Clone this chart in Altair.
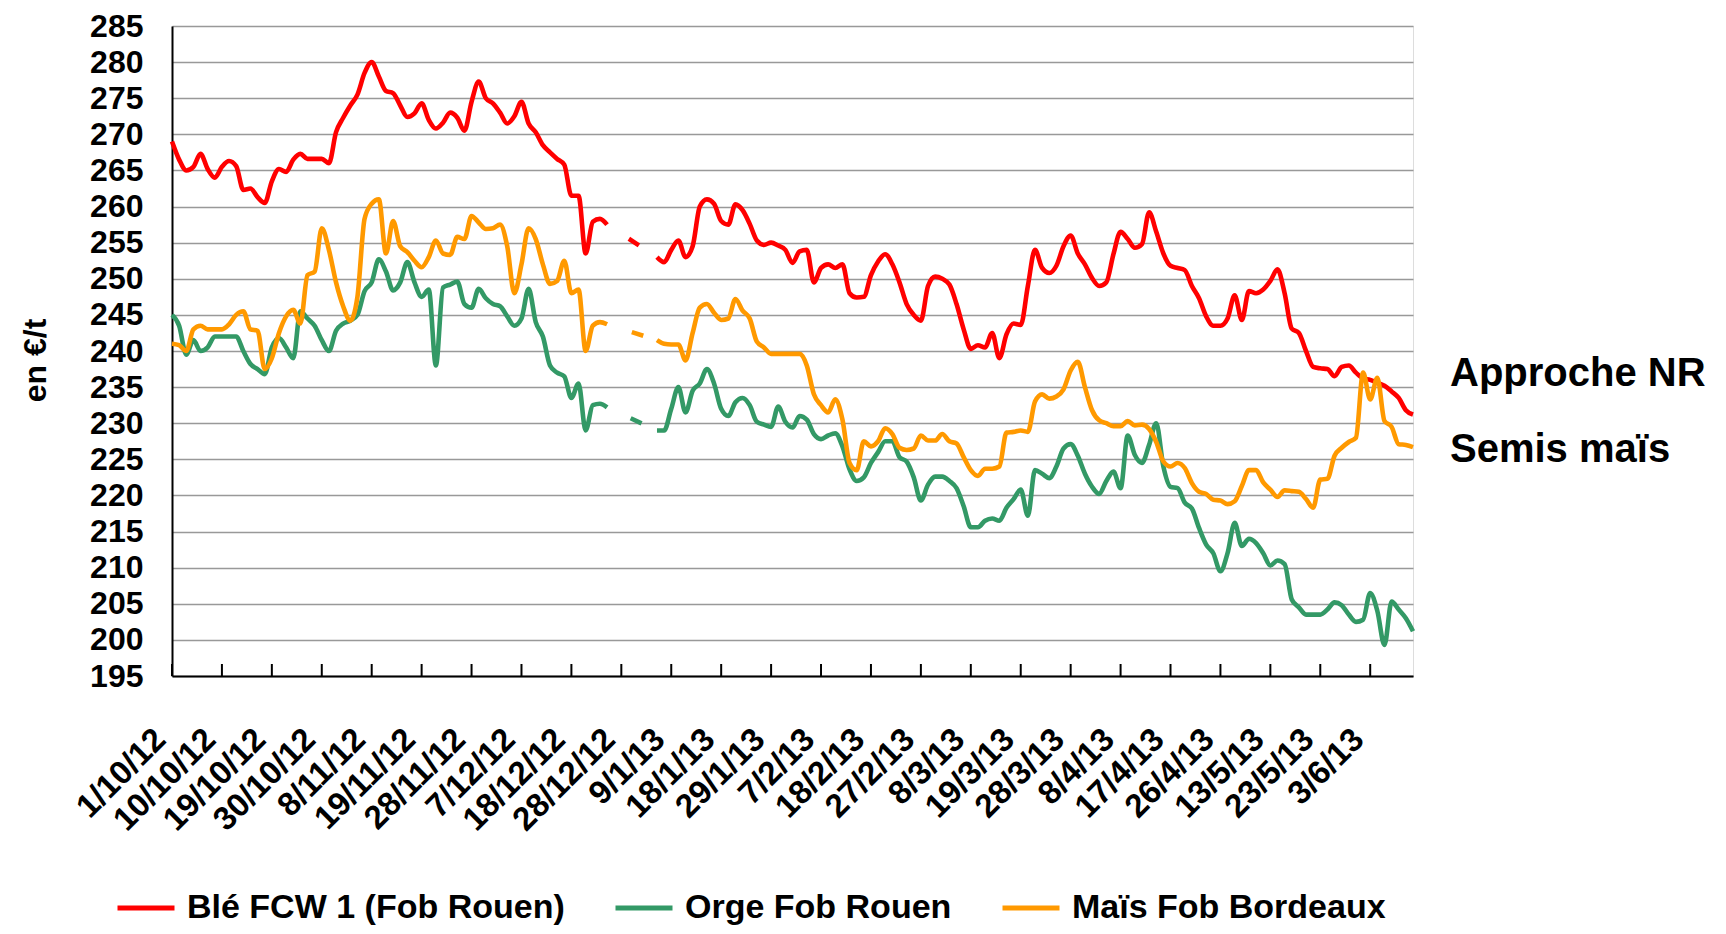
import altair as alt
import pandas as pd

# ---------------- data ----------------
x_labels = ["1/10/12", "10/10/12", "19/10/12", "30/10/12", "8/11/12", "19/11/12",
            "28/11/12", "7/12/12", "18/12/12", "28/12/12", "9/1/13", "18/1/13",
            "29/1/13", "7/2/13", "18/2/13", "27/2/13", "8/3/13", "19/3/13",
            "28/3/13", "8/4/13", "17/4/13", "26/4/13", "13/5/13", "23/5/13", "3/6/13"]
label_step = 7
n_points = 175
gap_start, gap_end = 61, 68

series_names = ["Blé FCW 1 (Fob Rouen)", "Orge Fob Rouen", "Maïs Fob Bordeaux"]
series_colors = ["#FF0000", "#339966", "#FF9900"]
annotations = ["Approche NR", "Semis maïs"]
y_ticks = list(range(195, 286, 5))

N = None
ble = [
    269, 266.5, 265, 265.5, 267.3, 265.2, 264, 265.5, 266.3, 265.6,
    262.3, 262.5, 261.3, 260.5, 263.5, 265.2, 264.8, 266.5, 267.3, 266.6,
    266.6, 266.6, 266, 270.3, 272.3, 274, 275.5, 278.5, 280, 278,
    276, 275.7, 274, 272.4, 272.9, 274.3, 272, 270.8, 271.6, 273,
    272.3, 270.5, 274.5, 277.3, 275, 274.3, 273, 271.5, 272.5, 274.5,
    271.5, 270.3, 268.5, 267.5, 266.6, 265.8, 261.5, 261.5, 253.5, 257.9,
    258.3, 257.5, N, N, N, N, N, N, 253, 252.3,
    254, 255.3, 253, 254.5, 260, 261, 260.4, 258, 257.5, 260.3,
    259.5, 257.6, 255.3, 254.7, 255, 254.6, 254, 252.2, 253.8, 254,
    249.5, 251.5, 252, 251.5, 252, 248, 247.4, 247.5, 250.5, 252.4,
    253.4, 252, 249.5, 246.5, 245, 244.2, 249, 250.3, 250, 249.2,
    246.5, 243, 240.3, 240.8, 240.5, 242.5, 239, 242.3, 243.8, 243.6,
    249, 254, 251.5, 250.8, 251.8, 254.5, 256, 253.5, 252, 250.1,
    249, 249.5, 253.4, 256.5, 255.5, 254.3, 254.8, 259.2, 256.5, 253.5,
    251.8, 251.5, 251.2, 249, 247.3, 244.8, 243.5, 243.5, 244.5, 247.7,
    244.3, 248.3, 248, 248.5, 249.7, 251.3, 248, 243.1, 242.5, 240,
    237.8, 237.6, 237.5, 236.5, 237.8, 238, 237, 236.2, 236, 235.6,
    235.2, 234.4, 233.5, 231.8, 231.2]

orge = [
    245, 243.5, 239.5, 241.5, 240, 240.5, 242, 242, 242, 242,
    240, 238.2, 237.5, 236.8, 240.5, 241.8, 240.5, 239, 245.5, 244.5,
    243.5, 241.5, 240, 242.8, 243.8, 244.2, 245, 248.3, 249.5, 252.7,
    251, 248.4, 249.5, 252.3, 249.5, 247.5, 248.5, 238, 248.8, 249.2,
    249.6, 246.5, 246, 248.6, 247.3, 246.5, 246.2, 244.8, 243.5, 244.5,
    248.6, 244, 242, 238, 237, 236.5, 233.5, 235.5, 229, 232.5,
    232.7, 232.2, N, N, N, N, N, N, 229, 229,
    232, 235, 231.5, 234.5, 235.5, 237.5, 235.5, 232, 231, 232.9,
    233.5, 232.5, 230.2, 229.8, 229.5, 232.3, 230.2, 229.4, 231, 230.5,
    228.5, 227.8, 228.3, 228.6, 226.8, 223.6, 222, 222.5, 224.5, 226,
    227.5, 227.5, 225.3, 224.7, 222.5, 219.3, 221.5, 222.6, 222.6, 222,
    221, 218.5, 215.6, 215.6, 216.5, 216.8, 216.5, 218.3, 219.5, 220.8,
    217.2, 223.5, 223, 222.4, 224, 226.5, 227.1, 225.5, 223, 221.2,
    220.2, 222, 223.3, 221, 228.3, 225.6, 224.5, 227, 230, 224,
    221.2, 221, 219, 218.2, 215.5, 213.2, 212, 209.5, 212, 216.2,
    213, 214, 213.4, 212, 210.3, 211, 210.5, 205.6, 204.5, 203.5,
    203.5, 203.5, 204.2, 205.2, 204.8, 203.5, 202.5, 202.8, 206.5, 204,
    199.3, 205.3, 204.2, 203, 201.2]

mais = [
    241, 240.8, 240, 243, 243.5, 243, 243, 243, 243.7, 245,
    245.5, 243, 242.8, 237.5, 239, 242.5, 244.8, 245.7, 243.8, 250.5,
    251, 257, 254, 249.5, 246.2, 244.2, 247.5, 258.3, 260.4, 261,
    253.5, 258, 254.5, 253.7, 252.5, 251.6, 253, 255.3, 253.5, 253.3,
    255.8, 255.5, 258.7, 257.8, 256.9, 257, 257.5, 254.5, 248, 252,
    257, 255.5, 252, 249.3, 249.7, 252.5, 248, 248.5, 240, 243.5,
    244, 243.7, N, N, N, N, N, N, 241.5, 241,
    240.9, 240.9, 238.7, 242.5, 246, 246.5, 245.3, 244.3, 244.5, 247.2,
    245.6, 244.5, 241.3, 240.5, 239.6, 239.6, 239.6, 239.6, 239.6, 238,
    234, 232.5, 231.5, 233.3, 230.5, 224.5, 223.5, 227.5, 226.8, 227.5,
    229.3, 228.5, 226.6, 226.3, 226.5, 228.3, 227.6, 227.6, 228.5, 227.5,
    227.2, 225.3, 223.5, 222.7, 223.7, 223.7, 224, 228.7, 228.8, 229,
    228.8, 233, 234, 233.4, 233.7, 234.7, 237.3, 238.5, 235, 231.8,
    230.4, 230, 229.6, 229.6, 230.3, 229.7, 229.8, 229.2, 227.4, 224.7,
    224, 224.5, 223.8, 221.7, 220.5, 220.2, 219.4, 219.3, 218.8, 219.2,
    221.3, 223.5, 223.5, 221.8, 220.8, 219.8, 220.7, 220.6, 220.5, 219.5,
    218.3, 222.2, 222.3, 225.5, 226.6, 227.4, 228, 237, 233.3, 236.3,
    230.3, 229.5, 227.1, 227, 226.7]

# ---------------- tables ----------------
series_values = [ble, orge, mais]
rows, conn_rows = [], []
for name, vals in zip(series_names, series_values):
    for i, v in enumerate(vals):
        if v is None:
            continue
        rows.append({"idx": i, "serie": name, "val": v, "seg": 0 if i <= gap_start else 1})
        if i in (gap_start, gap_end):
            conn_rows.append({"idx": i, "serie": name, "val": v})
df = pd.DataFrame(rows)
conn = pd.DataFrame(conn_rows)
tick_vals = list(range(0, len(x_labels) * label_step, label_step))
ticks_df = pd.DataFrame({"idx": tick_vals})

FONT = "Liberation Sans"
W, H = 1241, 650

label_js = "[" + ",".join("'%s'" % s for s in x_labels) + "]"

x_enc = alt.X("idx:Q",
              scale=alt.Scale(domain=[0, n_points - 1], nice=False, zero=False),
              axis=alt.Axis(values=tick_vals,
                            labelExpr=label_js + "[round(datum.value / %d)]" % label_step,
                            labelAngle=-45, labelAlign="right", labelBaseline="middle",
                            labelOffset=-12, labelPadding=58, labelFlush=False,
                            labelOverlap=False, labelBound=False,
                            ticks=False, tickSize=0, grid=False,
                            domainColor="black", domainWidth=2,
                            labelFont=FONT, labelFontSize=33, labelFontWeight="bold",
                            labelColor="black", title=None))
y_enc = alt.Y("val:Q",
              scale=alt.Scale(domain=[195, 285], nice=False, zero=False),
              axis=alt.Axis(values=y_ticks, grid=True, gridColor="#999999", gridWidth=1.5,
                            ticks=False, tickSize=0, labelPadding=29,
                            domainColor="black", domainWidth=2,
                            labelFont=FONT, labelFontSize=32, labelFontWeight="bold",
                            labelColor="black", labelOverlap=False, labelFlush=False,
                            title="en €/t", titleFont=FONT, titleFontSize=32,
                            titleFontWeight="bold", titleColor="black",
                            titleAngle=-90, titleX=-137, titleY=334,
                            titleAlign="center", titleBaseline="middle"))

color_enc = alt.Color("serie:N",
                      scale=alt.Scale(domain=series_names, range=series_colors),
                      title=None,
                      legend=alt.Legend(orient="none", legendX=-57, legendY=851,
                                        direction="horizontal", symbolType="stroke",
                                        symbolSize=3249, symbolStrokeWidth=5,
                                        labelFont=FONT, labelFontSize=34,
                                        labelFontWeight="bold", labelColor="black",
                                        labelOffset=10, columnPadding=40, labelLimit=0))

layers = []
# frame ticks (inside, pointing up)
layers.append(alt.Chart(ticks_df).mark_rule(color="black", strokeWidth=2).encode(
    x=alt.X("idx:Q", scale=alt.Scale(domain=[0, n_points - 1], nice=False, zero=False)),
    y=alt.value(H), y2=alt.value(H - 12)))

for name in series_names:
    layers.append(alt.Chart(df[df.serie == name]).mark_line(
        strokeWidth=4.6, strokeJoin="round", interpolate="monotone").encode(
        x=x_enc, y=y_enc, color=color_enc, detail="seg:N"))
    layers.append(alt.Chart(conn[conn.serie == name]).mark_line(
        strokeWidth=4.6, strokeDash=[12, 47], strokeDashOffset=33, strokeCap="butt").encode(
        x=x_enc, y=y_enc, color=color_enc))

layers.append(alt.Chart(pd.DataFrame({"t": [annotations[0]]})).mark_text(
    align="left", baseline="middle", font=FONT, fontSize=40, fontWeight="bold",
    color="black").encode(text="t:N", x=alt.value(1278), y=alt.value(348)))
layers.append(alt.Chart(pd.DataFrame({"t": [annotations[1]]})).mark_text(
    align="left", baseline="middle", font=FONT, fontSize=40, fontWeight="bold",
    color="black").encode(text="t:N", x=alt.value(1278), y=alt.value(424)))

chart = alt.layer(*layers).properties(
    width=W, height=H,
    autosize=alt.AutoSizeParams(type="none"),
    padding={"left": 164, "top": 18, "right": 305, "bottom": 250},
).configure_view(stroke="black", strokeWidth=2).configure(background="white")

chart.save("out.html", embed_options={"renderer": "svg", "actions": False})
